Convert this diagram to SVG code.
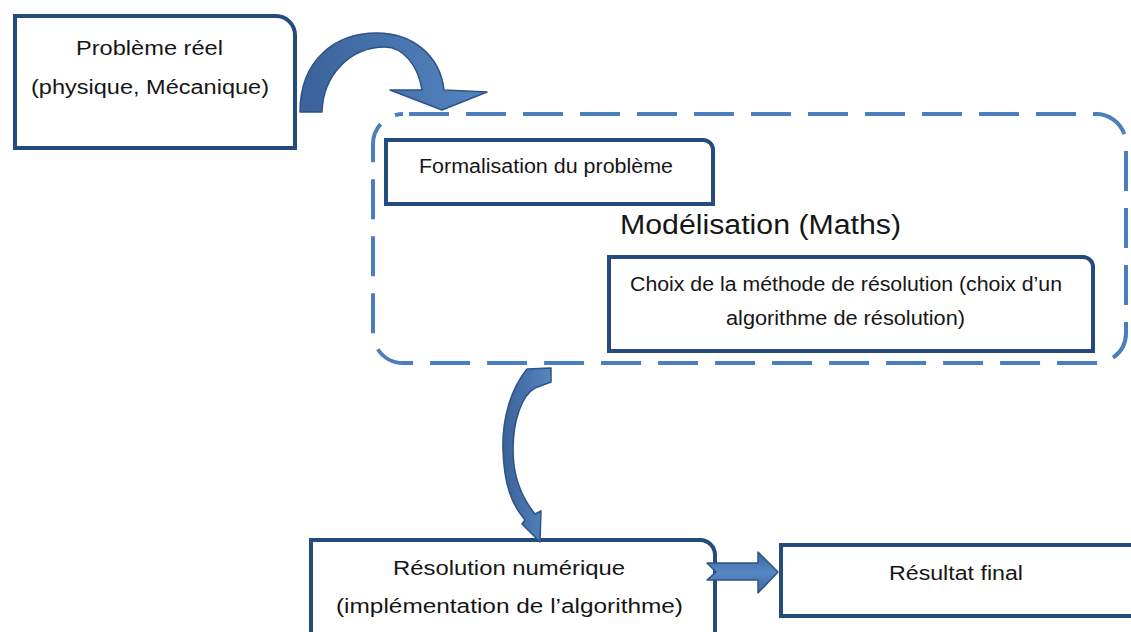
<svg xmlns="http://www.w3.org/2000/svg" width="1131" height="632" viewBox="0 0 1131 632">
<style>
.box{fill:#ffffff;stroke:#254B7E;stroke-width:4;stroke-linejoin:miter}
.t{font-family:"Liberation Sans",Arial,sans-serif;font-size:20px;fill:#161616;text-anchor:start}
.big{font-size:27px}
.dash{fill:none;stroke:#4A7EBF;stroke-width:4;stroke-dasharray:40 17;stroke-dashoffset:51}
.arr{stroke:#2E5385;stroke-width:1.5;stroke-linejoin:round}
</style>
<defs>
<linearGradient id="g1" x1="0" y1="0" x2="1" y2="0">
<stop offset="0" stop-color="#3B6299"/>
<stop offset="1" stop-color="#5486C2"/>
</linearGradient>
<linearGradient id="g2" x1="0" y1="0" x2="0" y2="1">
<stop offset="0" stop-color="#3D659C"/>
<stop offset="0.5" stop-color="#5688C4"/>
<stop offset="1" stop-color="#3D659C"/>
</linearGradient>
</defs>
<rect width="1131" height="632" fill="#ffffff"/>

<g id="modelisation">
<rect class="dash" x="373" y="114" width="753" height="249" rx="30" ry="30"/>
<text class="t big" x="620" y="234" textLength="281" lengthAdjust="spacingAndGlyphs">Modélisation (Maths)</text>
</g>

<g id="probleme-reel">
<path class="box" d="M15 16 H276 A19 19 0 0 1 295 35 V148 H15 Z"/>
<text class="t" x="76" y="55" textLength="147" lengthAdjust="spacingAndGlyphs">Problème réel</text>
<text class="t" x="31" y="94" textLength="238" lengthAdjust="spacingAndGlyphs">(physique, Mécanique)</text>
</g>

<g id="formalisation">
<path class="box" d="M386 140 H703 A10 10 0 0 1 713 150 V204 H386 Z"/>
<text class="t" x="419" y="173" textLength="254" lengthAdjust="spacingAndGlyphs">Formalisation du problème</text>
</g>

<g id="choix-methode">
<path class="box" d="M609 257 H1083 A10 10 0 0 1 1093 267 V351 H609 Z"/>
<text class="t" x="630" y="291" textLength="432" lengthAdjust="spacingAndGlyphs">Choix de la méthode de résolution (choix d’un</text>
<text class="t" x="726" y="325" textLength="239" lengthAdjust="spacingAndGlyphs">algorithme de résolution)</text>
</g>

<g id="resolution-numerique">
<path class="box" d="M311 645 V540 H700 A15 15 0 0 1 715 555 V645"/>
<text class="t" x="393" y="575" textLength="232" lengthAdjust="spacingAndGlyphs">Résolution numérique</text>
<text class="t" x="336" y="613" textLength="347" lengthAdjust="spacingAndGlyphs">(implémentation de l’algorithme)</text>
</g>

<g id="resultat-final">
<path class="box" d="M1145 545 H781 V616 H1145"/>
<text class="t" x="889" y="580" textLength="134" lengthAdjust="spacingAndGlyphs">Résultat final</text>
</g>

<g id="connectors">
<path class="arr" fill="url(#g1)" d="M300 112 C300 60 335 33 377 33 C412 33 440 55 444 90 L487 92 L442 110 L390 90 L422 90 C418 65 403 47 385 47 C350 47 323 75 322 112 Z"/>
<path class="arr" fill="url(#g1)" d="M527 369 C510 390 502 420 503 450 C504 485 512 505 525 520 L522 524 L540 542 L541 511 L535 514 C522 498 513 478 513 450 C513 420 522 395 535 388 L551 382 L551 368 Z"/>
<path class="arr" fill="url(#g2)" d="M707 563 L758 563 L758 552 L778 572 L758 593 L758 580 L707 580 L716 572 Z"/>
</g>
</svg>
